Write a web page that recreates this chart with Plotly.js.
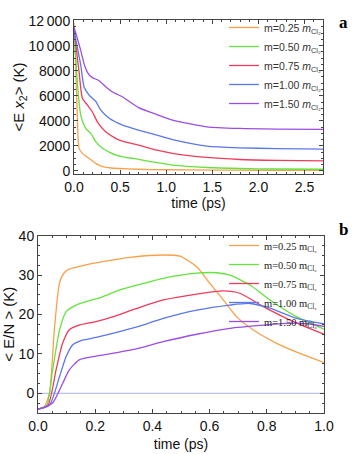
<!DOCTYPE html>
<html>
<head>
<meta charset="utf-8">
<script src="https://cdn.plot.ly/plotly-3.0.1.min.js"></script>
<style>
  html, body { margin: 0; padding: 0; background: #fff; }
  #chart { width: 360px; height: 454px; }
</style>
</head>
<body>
<div id="chart"></div>
<script>
// panel a : <E_x2> (K) vs time (ps)
const massLabels = ['0.25', '0.50', '0.75', '1.00', '1.50'];
const colors = ['#f9a04a', '#66e23f', '#ef3b5c', '#5b78e8', '#9b4ee2'];

const tA025 = [0, 0.018, 0.036, 0.055, 0.091, 0.164, 0.236, 0.309, 0.4, 0.49, 0.69, 1.0, 1.5, 2.0, 2.7];
const eA025 = [11800, 8400, 4400, 1800, 1400, 990, 600, 330, 230, 190, 130, 90, 60, 50, 50];
const tA050 = [0, 0.036, 0.073, 0.127, 0.182, 0.236, 0.309, 0.382, 0.455, 0.55, 0.7, 0.9, 1.07, 1.44, 1.8, 2.2, 2.7];
const eA050 = [11500, 7100, 4450, 3400, 3000, 2330, 1800, 1500, 1260, 1100, 920, 650, 460, 270, 190, 150, 130];
const tA075 = [0, 0.055, 0.091, 0.146, 0.2, 0.255, 0.346, 0.491, 0.7, 0.9, 1.07, 1.44, 1.8, 2.2, 2.7];
const eA075 = [11300, 7900, 5800, 5250, 4700, 3900, 3100, 2450, 2050, 1650, 1400, 1070, 910, 840, 800];
const tA100 = [0, 0.073, 0.109, 0.164, 0.236, 0.291, 0.382, 0.528, 0.7, 0.9, 1.07, 1.44, 1.8, 2.2, 2.7];
const eA100 = [11200, 8450, 6700, 6050, 5550, 4850, 4200, 3650, 3250, 2850, 2500, 1980, 1840, 1780, 1740];
const tA150 = [0, 0.07, 0.12, 0.16, 0.2, 0.273, 0.346, 0.418, 0.528, 0.7, 0.9, 1.07, 1.44, 1.8, 2.2, 2.7];
const eA150 = [11500, 9700, 8300, 7700, 7450, 7200, 6700, 6300, 5900, 5050, 4500, 4060, 3520, 3390, 3340, 3310];

// panel b : <E/N> (K) vs time (ps)
const tB025 = [0, 0.02, 0.04, 0.057, 0.075, 0.092, 0.109, 0.168, 0.226, 0.322, 0.438, 0.497, 0.555, 0.601, 0.648, 0.695, 0.753, 0.835, 0.92, 1.0];
const eB025 = [-4, -3.6, 0, 16, 27.9, 30.6, 31.5, 32.6, 33.4, 34.5, 35.1, 34.8, 32.1, 27.9, 23.7, 19.4, 16.1, 12.7, 10, 7.8];
const tB050 = [0, 0.03, 0.051, 0.075, 0.098, 0.133, 0.18, 0.226, 0.284, 0.343, 0.438, 0.555, 0.625, 0.671, 0.741, 0.811, 0.905, 1.0];
const eB050 = [-4, -3.2, 5.9, 16, 20.7, 22.4, 23.5, 24.5, 26.2, 27.4, 29.2, 30.5, 30.6, 30, 27.5, 23.7, 19.4, 16.3];
const tB075 = [0, 0.035, 0.063, 0.086, 0.109, 0.144, 0.203, 0.261, 0.343, 0.438, 0.555, 0.648, 0.706, 0.788, 0.881, 1.0];
const eB075 = [-4, -3, 5.9, 12.7, 16.1, 17.3, 18.2, 19.4, 21.5, 23.7, 25.2, 26, 25.4, 22, 18.6, 15];
const tB100 = [0, 0.04, 0.075, 0.098, 0.121, 0.156, 0.203, 0.261, 0.343, 0.438, 0.555, 0.671, 0.741, 0.811, 0.905, 1.0];
const eB100 = [-4, -3, 4.2, 9.3, 12.3, 13.5, 14.2, 15.2, 16.8, 19, 21.1, 22.4, 22.8, 21.6, 19, 17.6];
const tB150 = [0, 0.05, 0.086, 0.109, 0.144, 0.191, 0.249, 0.343, 0.438, 0.555, 0.671, 0.788, 0.881, 0.95, 1.0];
const eB150 = [-4, -2.5, 2.5, 5.9, 8.5, 9.3, 10, 11.3, 13.1, 15, 16.5, 17.3, 17.8, 17.6, 17.0];

const zeroX = [0, 1];
const zeroY = [0, 0];

const yTicksA = [0, 2000, 4000, 6000, 8000, 10000, 12000];
const yTextA = ['0', '2000', '4000', '6000', '8000', '10\u2009000', '12\u2009000'];

const panelA = [[tA025, eA025], [tA050, eA050], [tA075, eA075], [tA100, eA100], [tA150, eA150]];
const panelB = [[tB025, eB025], [tB050, eB050], [tB075, eB075], [tB100, eB100], [tB150, eB150]];

const traces = [];
panelA.forEach(([t, e], i) => {
    traces.push({
        x: t, y: e, xaxis: 'x', yaxis: 'y', mode: 'lines', legend: 'legend',
        name: `m=${massLabels[i]} <i>m</i><sub>Cl\u2082</sub>`,
        line: { color: colors[i], width: 1.3, shape: 'spline', smoothing: 0.6 }
    });
});
traces.push({
    x: zeroX, y: zeroY, xaxis: 'x2', yaxis: 'y2', mode: 'lines', showlegend: false,
    line: { color: '#b9c0ef', width: 1.2 }, hoverinfo: 'skip'
});
panelB.forEach(([t, e], i) => {
    traces.push({
        x: t, y: e, xaxis: 'x2', yaxis: 'y2', mode: 'lines', legend: 'legend2',
        name: `m=${massLabels[i]} m<sub>Cl\u2082</sub>`,
        line: { color: colors[i], width: 1.3, shape: 'spline', smoothing: 0.6 }
    });
});

const sans = 'Liberation Sans, Arial, sans-serif';
const frame = {
    showline: true, linecolor: '#444', linewidth: 1, mirror: 'allticks',
    ticks: 'inside', ticklen: 4, tickcolor: '#444', showgrid: false, zeroline: false,
    tickfont: { family: sans, size: 14, color: '#111' }
};
const minorTicks = (dtick) => ({ ticks: 'inside', ticklen: 2, tickcolor: '#444', dtick: dtick, showgrid: false });

const layout = {
    width: 360, height: 454,
    margin: { l: 0, r: 0, t: 0, b: 0 },
    paper_bgcolor: '#fff', plot_bgcolor: '#fff',
    showlegend: true,
    xaxis: Object.assign({}, frame, {
        domain: [74 / 360, 323 / 360], range: [0, 2.7], anchor: 'y',
        tickvals: [0, 0.5, 1, 1.5, 2, 2.5], ticktext: ['0.0', '0.5', '1.0', '1.5', '2.0', '2.5'],
        minor: minorTicks(0.1),
        title: { text: 'time (ps)', standoff: 2, font: { family: sans, size: 14, color: '#111' } }
    }),
    yaxis: Object.assign({}, frame, {
        domain: [(454 - 174) / 454, (454 - 20) / 454], range: [-250, 12050], anchor: 'x',
        tickvals: yTicksA, ticktext: yTextA,
        minor: minorTicks(500),
        title: { text: '<E <i>x</i><sub>2</sub>> (K)', standoff: 0, font: { family: sans, size: 15, color: '#111' } }
    }),
    xaxis2: Object.assign({}, frame, {
        domain: [38 / 360, 324 / 360], range: [0, 1], anchor: 'y2',
        tickvals: [0, 0.2, 0.4, 0.6, 0.8, 1.0], ticktext: ['0.0', '0.2', '0.4', '0.6', '0.8', '1.0'],
        minor: minorTicks(0.05),
        title: { text: 'time (ps)', standoff: 6, font: { family: sans, size: 14, color: '#111' } }
    }),
    yaxis2: Object.assign({}, frame, {
        domain: [(454 - 412.7) / 454, (454 - 235.7) / 454], range: [-4.9, 40], anchor: 'x2',
        tickvals: [0, 10, 20, 30, 40],
        minor: minorTicks(2.5),
        title: { text: '< E/N > (K)', standoff: 5, font: { family: sans, size: 15, color: '#111' } }
    }),
    legend: {
        x: 224 / 360, y: (454 - 13) / 454, xanchor: 'left', yanchor: 'top',
        bgcolor: 'rgba(0,0,0,0)', itemwidth: 30,
        font: { family: sans, size: 10.5, color: '#333' }
    },
    legend2: {
        x: 224 / 360, y: (454 - 231) / 454, xanchor: 'left', yanchor: 'top',
        bgcolor: 'rgba(0,0,0,0)', itemwidth: 30,
        font: { family: 'Liberation Serif, Times New Roman, serif', size: 10.5, color: '#222' }
    },
    annotations: [
        { text: '<b>a</b>', xref: 'paper', yref: 'paper', x: 350 / 360, y: (454 - 11) / 454, showarrow: false,
          font: { family: 'Liberation Serif, Times New Roman, serif', size: 17, color: '#000' } },
        { text: '<b>b</b>', xref: 'paper', yref: 'paper', x: 350 / 360, y: (454 - 230) / 454, showarrow: false,
          font: { family: 'Liberation Serif, Times New Roman, serif', size: 17, color: '#000' } }
    ]
};

Plotly.newPlot('chart', traces, layout, { displayModeBar: false, staticPlot: true });
</script>
</body>
</html>
